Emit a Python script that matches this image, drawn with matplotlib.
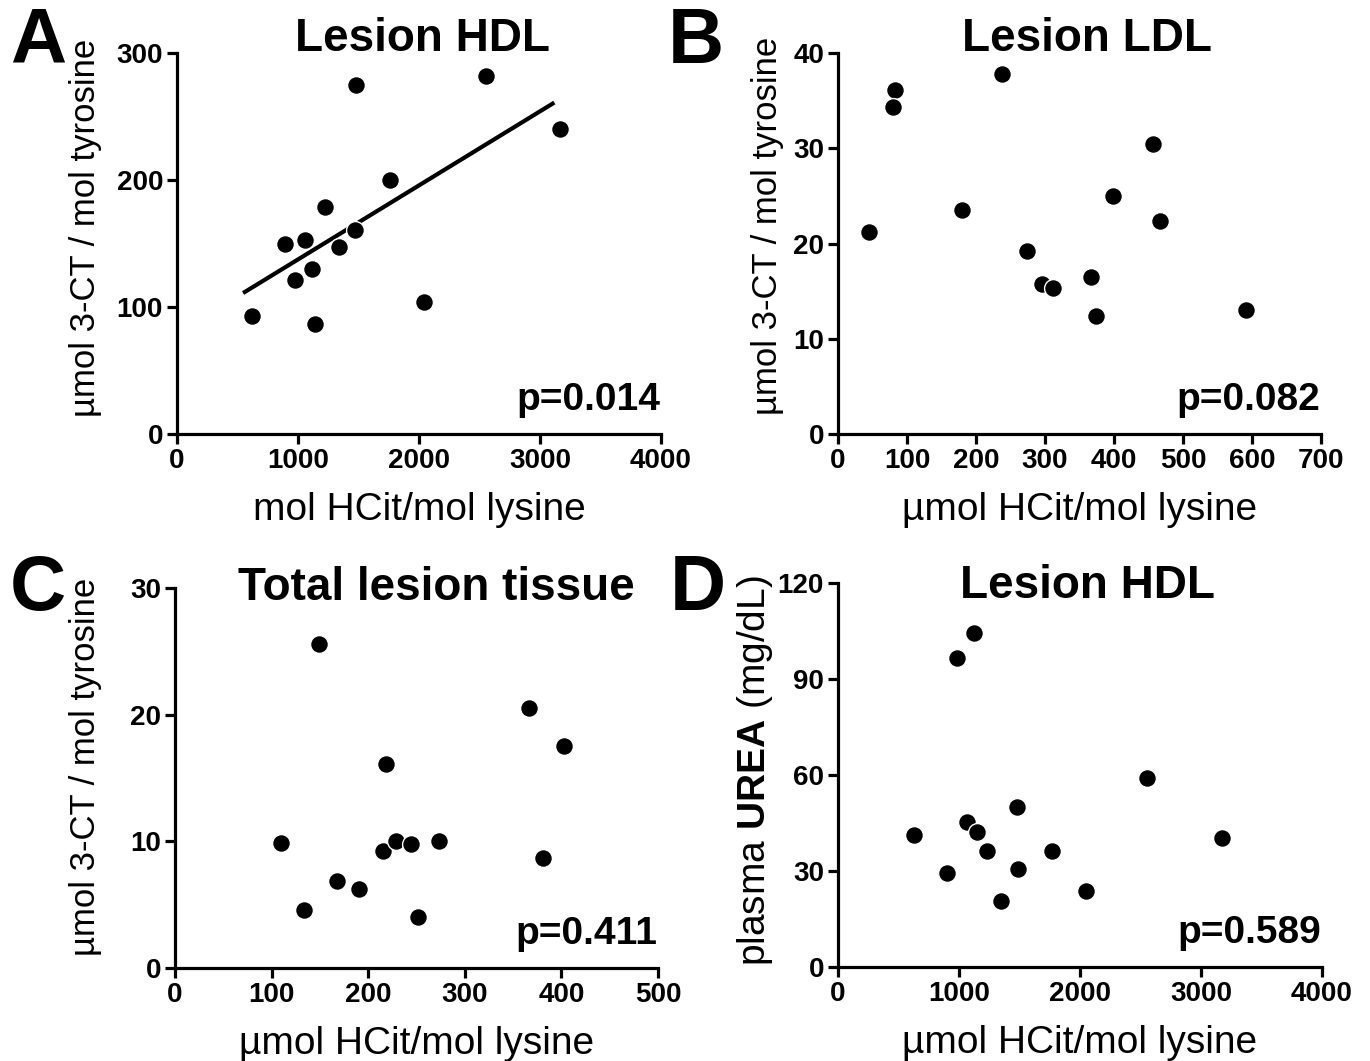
import numpy as np
import matplotlib
matplotlib.use("Agg")
import matplotlib.pyplot as plt

plt.rcParams["font.family"] = ["Liberation Sans", "DejaVu Sans"]
plt.rcParams["mathtext.fontset"] = "custom"
plt.rcParams["mathtext.rm"] = "Liberation Sans"
plt.rcParams["mathtext.bf"] = "Liberation Sans:bold"

# Panel A: lesion HDL, HCit vs 3-CT
hdl_hcit = [621, 891, 974, 1056, 1112, 1139, 1222, 1340, 1470, 1478, 1764, 2040, 2550, 3164]
hdl_3ct = [93, 150, 121, 153, 130, 87, 179, 147, 161, 275, 200, 104, 282, 240]

# Panel B: lesion LDL
ldl_hcit = [45, 83, 80, 180, 237, 274, 295, 311, 366, 374, 398, 456, 466, 592]
ldl_3ct = [21.2, 36.1, 34.3, 23.5, 37.8, 19.2, 15.7, 15.3, 16.5, 12.4, 25.0, 30.4, 22.4, 13.0]

# Panel C: total lesion tissue
tis_hcit = [149, 110, 134, 168, 190, 218, 215, 229, 244, 273, 252, 366, 403, 381]
tis_3ct = [25.6, 9.9, 4.6, 6.9, 6.2, 16.1, 9.2, 10.0, 9.8, 10.0, 4.0, 20.5, 17.5, 8.7]

# Panel D: lesion HDL HCit vs plasma urea
urea_hcit = [630, 898, 981, 1063, 1120, 1148, 1230, 1349, 1476, 1484, 1771, 2047, 2555, 3171]
urea_mgdl = [41.4, 29.4, 96.5, 45.3, 104.3, 42.2, 36.4, 20.5, 50.1, 30.6, 36.4, 23.6, 59.0, 40.3]

p_values = ["p=0.014", "p=0.082", "p=0.411", "p=0.589"]

fig = plt.figure(figsize=(13.7, 10.61), dpi=100)
W, H = 1370, 1061


def make_ax(left, right, top, bottom):
    return fig.add_axes([left / W, 1 - bottom / H, (right - left) / W, (bottom - top) / H])


def style(ax, xmax, xstep, ymax, ystep):
    ax.set_xlim(0, xmax)
    ax.set_ylim(0, ymax)
    ax.set_xticks(np.arange(0, xmax + 1, xstep))
    ax.set_yticks(np.arange(0, ymax + 0.001, ystep))
    ax.spines["top"].set_visible(False)
    ax.spines["right"].set_visible(False)
    for s in ("left", "bottom"):
        ax.spines[s].set_linewidth(2.3)
    ax.tick_params(width=2.3, length=7, labelsize=20, pad=3)
    for lab in ax.get_xticklabels() + ax.get_yticklabels():
        lab.set_fontweight("bold")


def dots(ax, x, y):
    ax.scatter(x, y, s=165, color="black", edgecolors="white", linewidths=1.0,
               zorder=3, clip_on=False)


axA = make_ax(177, 661, 53, 434)
axB = make_ax(838, 1321, 53, 434)
axC = make_ax(175, 658, 588, 968)
axD = make_ax(838, 1322, 583, 967)

style(axA, 4000, 1000, 300, 100)
style(axB, 700, 100, 40, 10)
style(axC, 500, 100, 30, 10)
style(axD, 4000, 1000, 120, 30)

dots(axA, hdl_hcit, hdl_3ct)
dots(axB, ldl_hcit, ldl_3ct)
dots(axC, tis_hcit, tis_3ct)
dots(axD, urea_hcit, urea_mgdl)

# linear regression line in panel A
slope, icpt = np.polyfit(hdl_hcit, hdl_3ct, 1)
xs = np.array([min(hdl_hcit) - 60, max(hdl_hcit) - 60])
axA.plot(xs, slope * xs + icpt, color="black", lw=3, zorder=2)

ylab = "\u00b5mol 3-CT / mol tyrosine"
axA.set_ylabel(ylab, fontsize=25)
axB.set_ylabel(ylab, fontsize=25)
axC.set_ylabel(ylab, fontsize=25)
axD.set_ylabel(r"plasma $\mathbf{UREA}$ (mg/dL)", fontsize=28)
axA.yaxis.set_label_coords(-0.155, 0.54)
axB.yaxis.set_label_coords(-0.112, 0.545)
axC.yaxis.set_label_coords(-0.152, 0.53)
axD.yaxis.set_label_coords(-0.130, 0.51)

axA.set_xlabel("mol HCit/mol lysine", fontsize=28)
axB.set_xlabel("\u00b5mol HCit/mol lysine", fontsize=28)
axC.set_xlabel("\u00b5mol HCit/mol lysine", fontsize=28)
axD.set_xlabel("\u00b5mol HCit/mol lysine", fontsize=28)
for ax in (axA, axB, axC, axD):
    ax.xaxis.set_label_coords(0.5, -0.152)

titles = [(axA, "Lesion HDL", 0.507, 1.005), (axB, "Lesion LDL", 0.515, 1.005),
          (axC, "Total lesion tissue", 0.542, 0.968), (axD, "Lesion HDL", 0.515, 0.961)]
for ax, t, x, y in titles:
    ax.text(x, y, t, transform=ax.transAxes, ha="center", va="baseline",
            fontsize=33, fontweight="bold")

for ax, p in zip((axA, axB, axC, axD), p_values):
    ax.text(0.998, 0.063, p, transform=ax.transAxes, ha="right", va="baseline",
            fontsize=28, fontweight="bold")

for letter, x, y in [("A", 10, 63), ("B", 668, 63), ("C", 10, 610), ("D", 670, 610)]:
    fig.text(x / W, 1 - y / H, letter, ha="left", va="baseline",
             fontsize=56, fontweight="bold")

fig.savefig("out.png", dpi=100, facecolor="white")
